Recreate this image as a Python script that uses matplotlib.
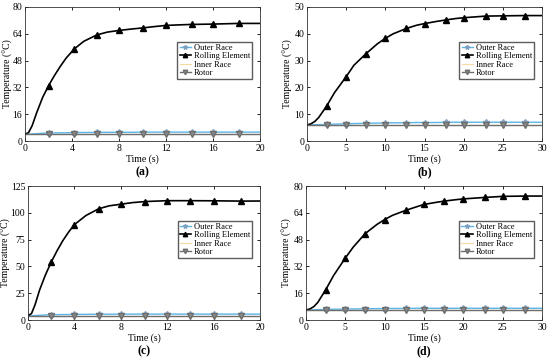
import matplotlib.pyplot as plt

plt.rcParams['font.family'] = ['Liberation Serif', 'DejaVu Serif']

# (a)
t_a = [0, 0.3, 0.6, 1, 1.5, 2, 2.5, 3, 3.5, 4.2, 5, 6.1, 7, 8, 9, 10, 11, 12, 13, 14.2, 16, 18.2, 20]
roll_a = [4, 5, 9, 17, 26, 33, 39, 44.5, 49.5, 55, 59.5, 63.3, 65, 66, 66.8, 67.5, 68.3, 69, 69.3, 69.6, 69.8, 70.2, 70.2]
outer_a = [4, 4, 4.2, 4.4, 4.6, 4.7, 4.8, 4.9, 4.9, 5, 5.1, 5.1, 5.2, 5.2, 5.2, 5.3, 5.3, 5.3, 5.3, 5.3, 5.3, 5.3, 5.3]
inner_a = [4] * len(t_a)
rotor_a = [4] * len(t_a)
marks_a = [2, 4.2, 6.1, 8, 10, 12, 14.2, 16, 18.2]

# (b)
t_b = [0, 0.5, 1, 1.5, 2.5, 3.5, 5, 6, 7.5, 9, 10, 11, 12.7, 14, 15, 16.5, 17.8, 19, 20, 22.8, 25, 27.8, 30]
roll_b = [6, 6.4, 7.3, 8.8, 13, 18, 24, 28.3, 32.5, 36.3, 38.3, 40, 42, 43.2, 43.8, 44.6, 45.2, 45.7, 46, 46.6, 46.7, 46.8, 46.8]
outer_b = [6, 6, 6.1, 6.1, 6.2, 6.3, 6.4, 6.5, 6.6, 6.7, 6.7, 6.8, 6.8, 6.9, 6.9, 6.9, 7, 7, 7, 7, 7, 7, 7]
inner_b = [6] * len(t_b)
rotor_b = [6] * len(t_b)
marks_b = [2.5, 5, 7.5, 10, 12.7, 15, 17.8, 20, 22.8, 25, 27.8]

# (c)
t_c = [0, 0.3, 0.6, 1, 1.5, 2, 2.5, 3, 3.5, 4, 5, 6.1, 7, 8, 9, 10.1, 12, 14, 16, 18.4, 20]
roll_c = [4, 6, 14, 28, 42, 54, 64.5, 74, 82, 89, 97.5, 103.8, 106.5, 108, 109.5, 110.5, 111.3, 111.3, 111.2, 110.9, 111]
outer_c = [4, 4, 4.2, 4.4, 4.7, 4.9, 5, 5.1, 5.1, 5.2, 5.3, 5.4, 5.4, 5.5, 5.5, 5.5, 5.5, 5.5, 5.5, 5.5, 5.5]
inner_c = [4] * len(t_c)
rotor_c = [4] * len(t_c)
marks_c = [2, 4, 6.1, 8, 10.1, 12, 14, 16, 18.4]

# (d)
t_d = [0, 0.5, 1, 1.5, 2.5, 3.5, 5, 6, 7.5, 9, 10, 11, 12.7, 14, 15, 16.5, 17.6, 19, 20, 22.8, 25, 27.8, 30]
roll_d = [6, 6.6, 8, 10.5, 18, 26.5, 37, 43.5, 51.5, 57, 60, 62.5, 65.5, 67.5, 69, 70.2, 71, 71.8, 72.3, 73.2, 73.8, 74, 74]
outer_d = [6, 6, 6.1, 6.2, 6.3, 6.4, 6.5, 6.6, 6.7, 6.8, 6.8, 6.9, 6.9, 7, 7, 7, 7, 7, 7, 7, 7, 7, 7]
inner_d = [6] * len(t_d)
rotor_d = [6] * len(t_d)
marks_d = [2.5, 5, 7.5, 10, 12.7, 15, 17.6, 20, 22.8, 25, 27.8]

panels = [
    ('(a)', t_a, roll_a, outer_a, inner_a, rotor_a, marks_a, 20, [0, 4, 8, 12, 16, 20], 80, [0, 16, 32, 48, 64, 80]),
    ('(b)', t_b, roll_b, outer_b, inner_b, rotor_b, marks_b, 30, [0, 5, 10, 15, 20, 25, 30], 50, [0, 10, 20, 30, 40, 50]),
    ('(c)', t_c, roll_c, outer_c, inner_c, rotor_c, marks_c, 20, [0, 4, 8, 12, 16, 20], 125, [0, 25, 50, 75, 100, 125]),
    ('(d)', t_d, roll_d, outer_d, inner_d, rotor_d, marks_d, 30, [0, 5, 10, 15, 20, 25, 30], 80, [0, 16, 32, 48, 64, 80]),
]

fig = plt.figure(figsize=(5.5, 3.62), dpi=100)
W, H = 550, 362
# left, top, right, bottom in pixels
boxes = [(25, 7, 260, 141), (307, 7, 542, 141), (28, 186, 260, 320), (306, 186, 542, 320)]
# right edge of the rotated y label, in pixels
ylab_px = [13, 293, 11, 292]

for (l, tp, r, b), yl, (tag, t, roll, outer, inner, rotor, marks, xmax, xt, ymax, yt) in zip(boxes, ylab_px, panels):
    ax = fig.add_axes([l / W, 1 - b / H, (r - l) / W, (b - tp) / H])
    mk = [t.index(m) for m in marks]
    ax.plot(t, outer, color='#5ab4e5', lw=1.0, marker='*', ms=4, markevery=mk,
            mfc='#7fa8c8', mec='#7f9fbf', label='Outer Race')
    ax.plot(t, roll, color='black', lw=1.2, marker='^', ms=4, markevery=mk, label='Rolling Element')
    ax.plot(t, inner, color='#f5d9a0', lw=0.8, label='Inner Race')
    ax.plot(t, rotor, color='#6e6e6e', lw=1.0, marker='v', ms=4, markevery=mk,
            mfc='#8a8a8a', label='Rotor')
    ax.set_xlim(0, xmax)
    ax.set_ylim(0, ymax)
    ax.set_xticks(xt)
    ax.set_yticks(yt)
    ax.tick_params(direction='in', labelsize=7, length=2.5, width=0.6, top=True, right=True, pad=2)
    for s in ax.spines.values():
        s.set_linewidth(0.6)
        s.set_color('#333333')
    ax.set_xlabel('Time (s)', fontsize=7, labelpad=1)
    ax.set_ylabel('Temperature (°C)', fontsize=7)
    ax.yaxis.set_label_coords((yl - l) / (r - l), 0.5)
    ax.legend(loc='upper right', bbox_to_anchor=((252 - 25) / 235, 0.74), fontsize=6, frameon=True,
              fancybox=False, edgecolor='#333333', borderpad=0.25, labelspacing=0.05,
              handlelength=1.4, handletextpad=0.3, borderaxespad=0, markerscale=0.8)
    ax.text(0.5, -31 / (b - tp), tag, transform=ax.transAxes, ha='center', va='center',
            fontsize=8.5, fontweight='bold')

fig.savefig('out.png', dpi=100)
